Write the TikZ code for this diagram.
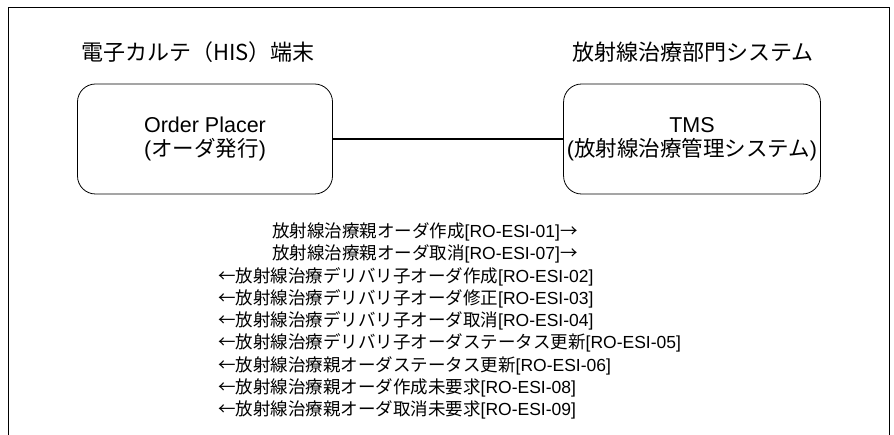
\documentclass[tikz,border=0pt]{standalone}
\usepackage{fontspec}
\setmainfont{Liberation Sans}
\newfontfamily\jp{Noto Sans CJK JP}
\begin{document}
\begin{tikzpicture}[x=1pt,y=-1pt,
  sysbox/.style={draw, rounded corners=18pt, line width=0.8pt, minimum width=255pt, minimum height=110pt, align=center, font=\fontsize{21.5}{24}\selectfont},
  ttl/.style={font=\fontsize{22}{22}\selectfont\jp},
  msg/.style={anchor=west, inner sep=0pt, font=\fontsize{17.5}{17.5}\selectfont},
  conn/.style={line width=2.4pt}]
\useasboundingbox (0,0) rectangle (894,435);
\draw[line width=0.8pt] (8,440) -- (8,7) -- (889,7) -- (889,440);
\node[ttl] (t1) at (198,52) {電子カルテ（HIS）端末};
\node[ttl] (t2) at (693,52) {放射線治療部門システム};
\node[sysbox] (op) at (205,139) {Order Placer\\({\jp オーダ発行})};
\node[sysbox] (tms) at (692,139) {TMS\\({\jp 放射線治療管理システム})};
\draw[conn] (op.east) -- (tms.west);
\node[msg] (m1) at (272,232) {{\jp 放射線治療親オーダ作成}[RO-ESI-01]{\jp →}};
\node[msg] (m2) at (272,254.25) {{\jp 放射線治療親オーダ取消}[RO-ESI-07]{\jp →}};
\node[msg] (m3) at (218,276.5) {{\jp ←放射線治療デリバリ子オーダ作成}[RO-ESI-02]};
\node[msg] (m4) at (218,298.75) {{\jp ←放射線治療デリバリ子オーダ修正}[RO-ESI-03]};
\node[msg] (m5) at (218,321) {{\jp ←放射線治療デリバリ子オーダ取消}[RO-ESI-04]};
\node[msg] (m6) at (218,343.25) {{\jp ←放射線治療デリバリ子オーダステータス更新}[RO-ESI-05]};
\node[msg] (m7) at (218,365.5) {{\jp ←放射線治療親オーダステータス更新}[RO-ESI-06]};
\node[msg] (m8) at (218,387.75) {{\jp ←放射線治療親オーダ作成未要求}[RO-ESI-08]};
\node[msg] (m9) at (218,410) {{\jp ←放射線治療親オーダ取消未要求}[RO-ESI-09]};
\end{tikzpicture}
\end{document}
